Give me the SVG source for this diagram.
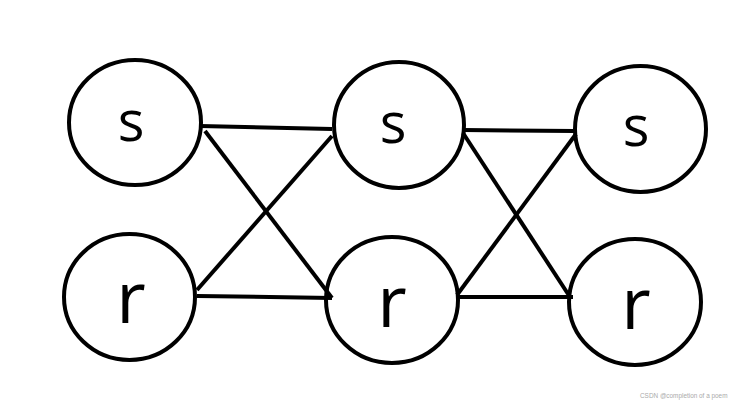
<svg xmlns="http://www.w3.org/2000/svg" width="741" height="408" viewBox="0 0 741 408">
<style>
.n{fill:none;stroke:#000;stroke-width:4}
.e{stroke:#000;stroke-width:4;stroke-linecap:butt}
.s{font-family:"Open Sans","DejaVu Sans",sans-serif;font-size:56px;fill:#000;text-anchor:middle}
.r{font-family:"Open Sans","DejaVu Sans",sans-serif;font-size:72px;fill:#000;text-anchor:middle}
.w{font-family:"Liberation Sans",Arial,sans-serif;font-size:6.4px;fill:#aaa}
</style>
<rect width="741" height="408" fill="#fff"/>
<g id="connectors">
<line class="e" x1="200" y1="126" x2="332" y2="129"/>
<line class="e" x1="205" y1="131" x2="332" y2="298"/>
<line class="e" x1="197" y1="290" x2="332" y2="136"/>
<line class="e" x1="197" y1="296" x2="332" y2="298"/>
<line class="e" x1="463" y1="130" x2="575" y2="131"/>
<line class="e" x1="463" y1="133" x2="570" y2="297"/>
<line class="e" x1="457" y1="295" x2="576" y2="134"/>
<line class="e" x1="458" y1="297" x2="573" y2="297"/>
</g>
<g id="s1"><ellipse class="n" cx="135" cy="122.5" rx="66" ry="62.5"/><text class="s" x="131" y="141">s</text></g>
<g id="r1"><ellipse class="n" cx="129.5" cy="297" rx="65.5" ry="63"/><text class="r" x="131" y="323">r</text></g>
<g id="s2"><ellipse class="n" cx="399" cy="125" rx="65" ry="63"/><text class="s" x="393" y="143">s</text></g>
<g id="r2"><ellipse class="n" cx="392" cy="300" rx="66" ry="63"/><text class="r" x="392" y="327">r</text></g>
<g id="s3"><ellipse class="n" cx="640.5" cy="129" rx="65.5" ry="63"/><text class="s" x="636" y="146">s</text></g>
<g id="r3"><ellipse class="n" cx="635" cy="302" rx="66" ry="63"/><text class="r" x="636" y="329">r</text></g>
<text class="w" x="640" y="398">CSDN @completion of a poem</text>
</svg>
